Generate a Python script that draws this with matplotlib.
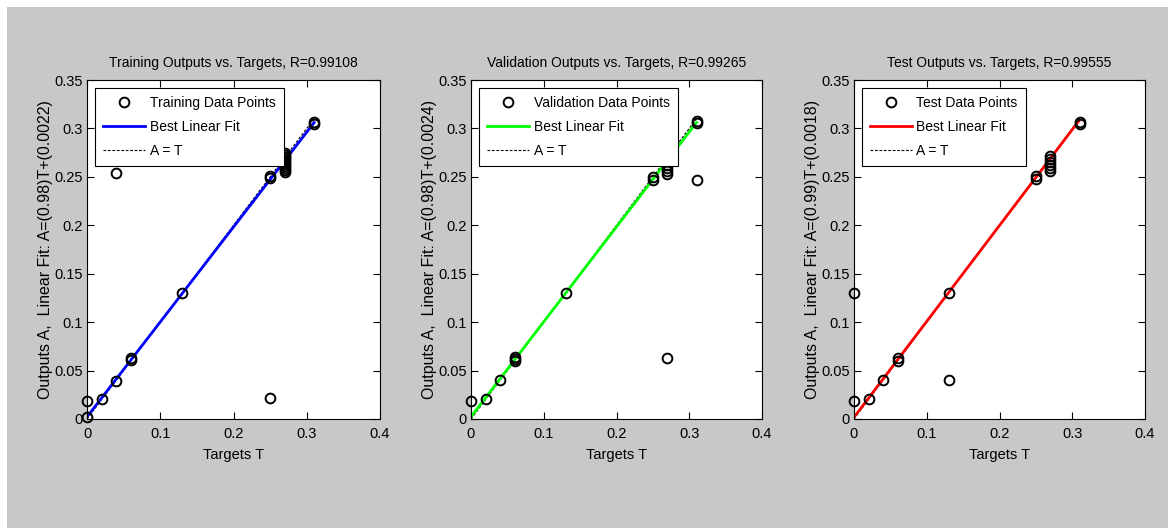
import numpy as np
import matplotlib.pyplot as plt
from matplotlib.patches import Rectangle

plt.rcParams['font.family'] = ['Liberation Sans', 'DejaVu Sans']

# training set: targets / network outputs
train_t = [0, 0, 0.02, 0.04, 0.04, 0.06, 0.06, 0.13, 0.25, 0.25, 0.25,
           0.27, 0.27, 0.27, 0.27, 0.27, 0.27, 0.27, 0.27, 0.27, 0.27, 0.27,
           0.31, 0.31]
train_a = [0.002, 0.019, 0.021, 0.039, 0.254, 0.061, 0.063, 0.130, 0.022, 0.249, 0.251,
           0.255, 0.257, 0.259, 0.261, 0.263, 0.265, 0.267, 0.269, 0.271, 0.273, 0.275,
           0.305, 0.307]

# validation set
val_t = [0, 0.02, 0.04, 0.06, 0.06, 0.06, 0.13, 0.25, 0.25,
         0.27, 0.27, 0.27, 0.27, 0.27, 0.31, 0.31, 0.31]
val_a = [0.019, 0.021, 0.040, 0.060, 0.062, 0.064, 0.130, 0.247, 0.250,
         0.063, 0.253, 0.256, 0.259, 0.262, 0.247, 0.306, 0.308]

# test set
test_t = [0, 0, 0.02, 0.04, 0.06, 0.06, 0.13, 0.13, 0.25, 0.25,
          0.27, 0.27, 0.27, 0.27, 0.27, 0.27, 0.31, 0.31]
test_a = [0.019, 0.130, 0.021, 0.040, 0.060, 0.063, 0.040, 0.130, 0.248, 0.251,
          0.256, 0.259, 0.262, 0.265, 0.268, 0.272, 0.305, 0.307]

# linear fit coefficients A = m*T + b
fits = [(0.98, 0.0022), (0.98, 0.0024), (0.99, 0.0018)]
r_values = ['0.99108', '0.99265', '0.99555']
names = ['Training', 'Validation', 'Test']
fit_colors = ['#0000ff', '#00ff00', '#ff0000']
fit_labels = ['A=(0.98)T+(0.0022)', 'A=(0.98)T+(0.0024)', 'A=(0.99)T+(0.0018)']
datasets = [(train_t, train_a), (val_t, val_a), (test_t, test_a)]

fig = plt.figure(figsize=(11.68, 5.28), dpi=100)
fig.patch.set_facecolor('white')
# grey window area with a thin white margin top/left
fig.patches.append(Rectangle((7 / 1168, 0), 1, 1 - 7 / 528, transform=fig.transFigure,
                             facecolor='#c8c8c8', edgecolor='none', zorder=-10))

lefts = [87 / 1168, 471 / 1168, 854 / 1168]
widths = [293 / 1168, 291 / 1168, 291 / 1168]
bottom = 1 - 419 / 528
height = 339 / 528

for i in range(3):
    ax = fig.add_axes([lefts[i], bottom, widths[i], height])
    t, a = datasets[i]
    m, b = fits[i]
    tt = np.array([min(t), max(t)])
    ax.plot(t, a, 'o', mfc='none', mec='black', ms=7, mew=1.4,
            label=names[i] + ' Data Points', zorder=3, clip_on=False)
    ax.plot(tt, m * tt + b, '-', color=fit_colors[i], lw=2, label='Best Linear Fit', zorder=2)
    ax.plot(tt, tt, '--', color='black', lw=0.8, dashes=(2.5, 1.5), label='A = T', zorder=1)

    ax.set_xlim(0, 0.4)
    ax.set_ylim(0, 0.35)
    ax.set_xticks([0, 0.1, 0.2, 0.3, 0.4])
    ax.set_xticklabels(['0', '0.1', '0.2', '0.3', '0.4'])
    ax.set_yticks([0, 0.05, 0.1, 0.15, 0.2, 0.25, 0.3, 0.35])
    ax.set_yticklabels(['0', '0.05', '0.1', '0.15', '0.2', '0.25', '0.3', '0.35'])
    ax.tick_params(direction='in', length=5, width=0.8, top=True, right=True,
                   labelsize=10.5, colors='black')
    ax.tick_params(axis='y', pad=3)
    ax.tick_params(axis='x', pad=6)
    for s in ax.spines.values():
        s.set_linewidth(0.8)

    ax.set_title(names[i] + ' Outputs vs. Targets, R=' + r_values[i], fontsize=10, pad=9)
    ax.set_xlabel('Targets T', fontsize=10.5, labelpad=5)
    ax.set_ylabel('Outputs A,  Linear Fit: ' + fit_labels[i], fontsize=11.5, labelpad=1)

    leg = ax.legend(loc='upper left', fontsize=10, frameon=True, fancybox=False,
                    edgecolor='black', framealpha=1, numpoints=1, handlelength=3.0,
                    handletextpad=0.35, labelspacing=0.72, borderpad=0.6,
                    borderaxespad=0.55)
    leg.get_frame().set_linewidth(0.8)

fig.savefig('out.png', dpi=100, facecolor=fig.get_facecolor())
